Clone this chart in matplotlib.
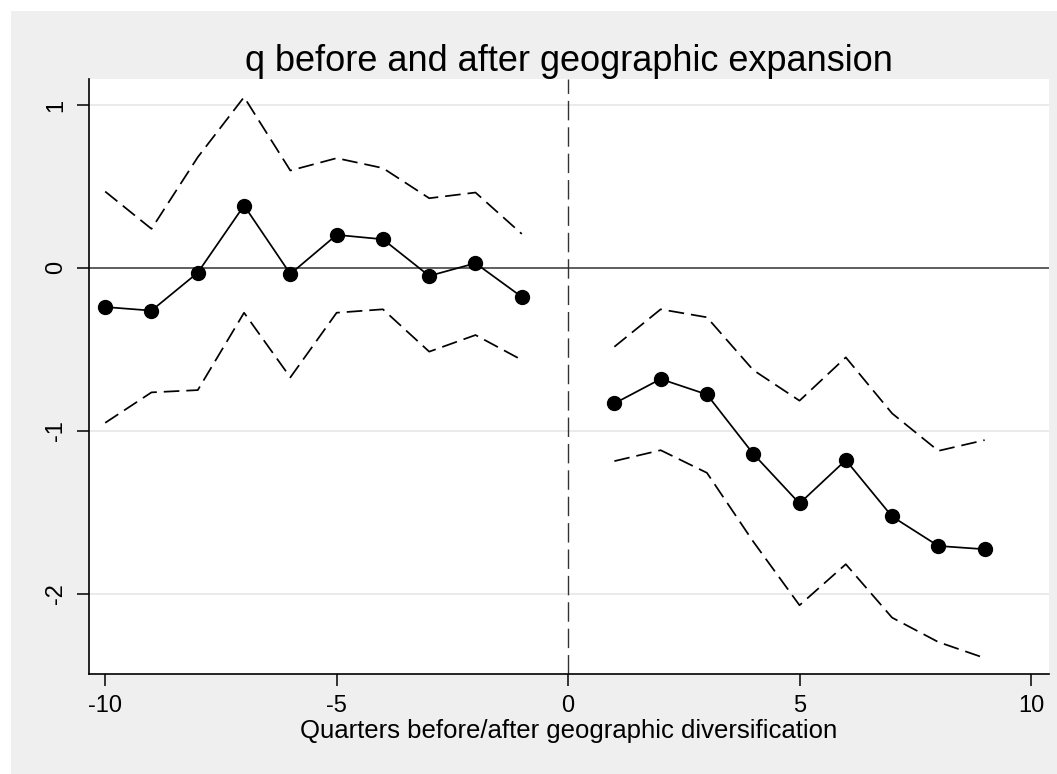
import matplotlib
matplotlib.use("Agg")
import matplotlib.pyplot as plt
from matplotlib.patches import Rectangle

plt.rcParams['font.family'] = ['Liberation Sans', 'DejaVu Sans']

quarters_before = [-10, -9, -8, -7, -6, -5, -4, -3, -2, -1]
coef_before = [-0.24, -0.262, -0.029, 0.383, -0.037, 0.203, 0.176, -0.049, 0.029, -0.178]
upper_before = [0.469, 0.24, 0.68, 1.049, 0.598, 0.674, 0.613, 0.428, 0.463, 0.209]
lower_before = [-0.951, -0.764, -0.750, -0.275, -0.672, -0.275, -0.254, -0.514, -0.412, -0.565]

quarters_after = [1, 2, 3, 4, 5, 6, 7, 8, 9]
coef_after = [-0.832, -0.682, -0.777, -1.141, -1.446, -1.180, -1.526, -1.707, -1.727]
upper_after = [-0.484, -0.254, -0.303, -0.627, -0.815, -0.549, -0.893, -1.123, -1.057]
lower_after = [-1.186, -1.119, -1.258, -1.68, -2.071, -1.819, -2.147, -2.297, -2.395]

xticks = [-10, -5, 0, 5, 10]
yticks = [-2, -1, 0, 1]
title = "q before and after geographic expansion"
xlabel = "Quarters before/after geographic diversification"

W, H = 1057, 774
fig = plt.figure(figsize=(W / 100, H / 100), dpi=100)
fig.patch.set_facecolor('white')
fig.patches.append(Rectangle((11 / W, 0), 1 - 11 / W, 1 - 11 / H, transform=fig.transFigure,
                             facecolor='#EFEFEF', edgecolor='none', zorder=-10))

ax = fig.add_axes([89 / W, 1 - 673.5 / H, (1049 - 89) / W, (673.5 - 79) / H])
ax.set_facecolor('white')
ax.set_xlim(-10.35, 10.39)
ax.set_ylim(-2.49, 1.16)

for yv in yticks:
    if yv != 0:
        ax.axhline(yv, color='#E8E8E8', lw=1.3, zorder=0)
ax.axhline(0, color='#333333', lw=1.1, zorder=1)
ax.axvline(0, color='#333333', lw=1.0, linestyle=(0, (14, 5)), zorder=1)

dash = (0, (9, 4))
for q, c, u, l in [(quarters_before, coef_before, upper_before, lower_before),
                   (quarters_after, coef_after, upper_after, lower_after)]:
    ax.plot(q, u, color='black', lw=1.25, linestyle=dash, zorder=2)
    ax.plot(q, l, color='black', lw=1.25, linestyle=dash, zorder=2)
    ax.plot(q, c, color='black', lw=1.25, marker='o', markersize=10, zorder=3)

for s in ['top', 'right']:
    ax.spines[s].set_visible(False)
for s in ['left', 'bottom']:
    ax.spines[s].set_linewidth(1.2)
    ax.spines[s].set_color('black')

ax.set_xticks(xticks)
ax.set_yticks(yticks)
ax.set_xticklabels([str(v) for v in xticks])
ax.set_yticklabels([str(v) for v in yticks], rotation=90, va='center')
ax.tick_params(axis='both', length=8.6, width=1.1, labelsize=17, direction='out', color='black')
ax.tick_params(axis='x', pad=7)
ax.tick_params(axis='y', pad=7)

ax.set_title(title, fontsize=26, pad=4)
ax.set_xlabel(xlabel, fontsize=18.5, labelpad=1)

fig.savefig('out.png', dpi=100, facecolor=fig.get_facecolor())
